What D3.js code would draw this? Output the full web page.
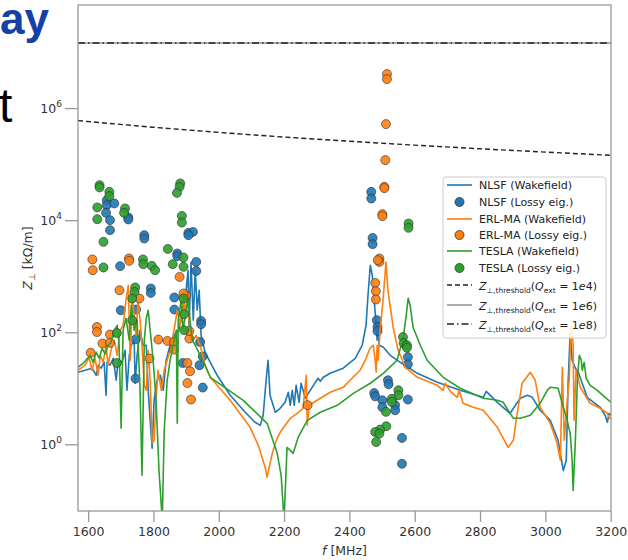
<!DOCTYPE html>
<html lang="en">
<head>
<meta charset="UTF-8">
<title>Transverse impedance</title>
<style>
  body { margin: 0; background: #fff; }
  svg { display: block; font-family: "DejaVu Sans", sans-serif; }
</style>
</head>
<body>
<div class="canvas"></div>
<script src="https://cdnjs.cloudflare.com/ajax/libs/d3/7.8.5/d3.min.js"></script>
<script>
// data: [f MHz, Z kOhm/m]
const nlsfWake = [[1569,19.3],[1591,21],[1612,22.8],[1625,17.1],[1631,25.8],[1640,22.8],[1649,29.1],[1655,7.5],[1658,29.1],[1667,25.8],[1677,34.3],[1686,13.9],[1692,31.6],[1704,29.1],[1713,47.7],[1719,9.2],[1726,38.8],[1732,58.6],[1741,72],[1744,12.3],[1750,38.8],[1759,108],[1768,58.6],[1778,58.6],[1784,9.2],[1790,2.68],[1796,0.85],[1802,6.1],[1811,13.9],[1821,17.1],[1830,9.2],[1839,31.6],[1851,58.6],[1863,88],[1876,108],[1885,164],[1894,373],[1900,562],[1906,1280],[1909,108],[1915,1780],[1922,164],[1928,1280],[1934,247],[1940,562],[1946,88],[1958,44],[1974,29.1],[1995,17.1],[2035,7.5],[2081,3.73],[2111,2.47],[2127,2.18],[2136,3.3],[2145,13.9],[2151,31.6],[2157,7.5],[2173,3.73],[2188,4.39],[2203,5.62],[2213,8.5],[2219,4.97],[2225,9.2],[2231,4.97],[2237,11.3],[2246,5.62],[2252,12.3],[2265,6.63],[2280,9.2],[2304,15.1],[2311,13.3],[2320,15.7],[2341,18.5],[2381,22.8],[2418,34.3],[2439,58.6],[2451,133],[2457,458],[2464,1570],[2470,1040],[2476,373],[2482,133],[2485,72],[2488,151],[2491,58.6],[2504,54],[2525,38.8],[2556,29.1],[2608,18.5],[2669,12.8],[2739,9.2],[2810,6.9],[2819,8.8],[2853,5.62],[2892,3.58],[2923,6.63],[2945,7.5],[2960,6.9],[2984,4.05],[3015,2.68],[3039,1.18],[3055,0.34],[3064,0.52],[3070,13.9],[3076,96],[3082,31.6],[3092,22.8],[3101,19.3],[3128,6.9],[3168,4.58],[3183,3.3],[3190,2.47],[3195,3.58],[3202,3.3]];

const erlWake = [[1569,21],[1591,25.8],[1603,35.8],[1612,21],[1621,34.3],[1631,17.1],[1637,38.8],[1646,29.1],[1655,58.6],[1661,25.8],[1670,47.7],[1680,72],[1689,38.8],[1698,108],[1707,133],[1716,373],[1723,690],[1729,31.6],[1735,458],[1741,201],[1747,88],[1753,373],[1759,164],[1765,58.6],[1772,11.3],[1778,9.2],[1784,47.7],[1790,13.9],[1796,1.04],[1802,1.18],[1808,6.1],[1814,21],[1824,9.2],[1833,21],[1842,31.6],[1851,47.7],[1863,108],[1873,247],[1882,133],[1891,373],[1897,247],[1903,405],[1912,108],[1922,72],[1931,88],[1943,58.6],[1958,25.8],[1974,15.7],[2035,6.1],[2096,2.01],[2121,0.96],[2142,0.39],[2148,0.26],[2157,0.46],[2164,0.69],[2176,1.18],[2188,1.64],[2219,2.91],[2240,3.58],[2258,4.39],[2268,17.1],[2271,2.18],[2277,4.97],[2311,6.63],[2341,8.5],[2381,10.4],[2402,13.9],[2433,21],[2451,34.3],[2463,51.8],[2473,58.6],[2479,31.6],[2482,19.3],[2485,58.6],[2488,31.6],[2494,108],[2503,373],[2512,1780],[2518,562],[2534,123],[2549,47.7],[2571,23.7],[2608,15.7],[2669,11.3],[2687,9.2],[2693,12.3],[2709,8.8],[2730,6.9],[2736,9.2],[2748,5.4],[2779,4.58],[2810,4.05],[2853,2.01],[2886,0.88],[2902,1.18],[2914,3.58],[2929,12.3],[2954,19.3],[2969,13.9],[2984,4.58],[3015,2.37],[3036,1.04],[3046,0.52],[3052,23.7],[3058,1.18],[3067,6.1],[3073,13.9],[3079,133],[3085,58.6],[3088,2.68],[3094,21],[3107,10.4],[3137,5.4],[3168,4.39],[3190,3.58],[3196,2.91],[3205,3.03]];

const teslaWake = [[1569,23.7],[1588,29.1],[1606,38.8],[1615,29.1],[1625,44],[1634,34.3],[1643,51.8],[1652,40.5],[1661,58.6],[1670,66],[1680,108],[1689,133],[1695,58.6],[1701,1.93],[1707,108],[1716,178],[1726,72],[1732,303],[1741,108],[1750,164],[1759,9.2],[1765,0.28],[1772,72],[1778,178],[1784,247],[1790,108],[1799,31.6],[1808,6.1],[1817,0.34],[1827,0.044],[1833,1.78],[1842,13.9],[1851,31.6],[1860,58.6],[1870,108],[1873,2.37],[1876,164],[1885,373],[1891,108],[1900,247],[1906,373],[1912,164],[1919,72],[1928,58.6],[1943,38.8],[1958,25.8],[1974,15.7],[2075,6.1],[2148,2.37],[2179,0.69],[2191,0.28],[2200,0.044],[2209,0.88],[2219,0.78],[2228,0.69],[2243,1.33],[2271,2.68],[2311,3.73],[2363,4.97],[2412,8.1],[2464,12.3],[2504,18.5],[2546,31.6],[2565,81],[2574,201],[2580,405],[2586,303],[2595,123],[2617,58.6],[2638,31.6],[2687,15.7],[2739,10],[2810,6.63],[2853,6.1],[2871,5.62],[2886,4.05],[2902,2.91],[2923,2.91],[2954,3.3],[2984,5.4],[3006,9.2],[3015,10.4],[3039,10],[3055,4.58],[3067,2.68],[3076,1.57],[3082,0.52],[3085,0.15],[3092,1.18],[3098,13.9],[3104,38.8],[3110,31.6],[3113,21],[3119,29.1],[3125,15.1],[3137,11.3],[3159,9.2],[3183,6.9],[3205,5.4]];

const nlsfEig = [[1657,22700],[1657,18500],[1680,19900],[1655,13500],[1667,10000],[1723,11200],[1723,10300],[1667,6630],[1772,5400],[1772,4710],[1698,1510],[1873,2540],[1873,2280],[1907,5930],[1921,6180],[1907,5400],[1931,1800],[1931,1240],[1792,603],[1792,503],[1864,417],[1864,254],[1700,247],[1747,254],[1946,159],[1946,139],[1943,67],[1951,37],[1890,28.3],[1745,14.9],[1951,10.3],[1746,75],[1941,25.8],
  [2467,32000],[2467,24400],[2471,4830],[2471,3730],[2484,164],[2486,124],[2486,105],[2518,13.9],[2520,11.8],[2476,8.2],[2479,7.2],[2501,6.1],[2501,4.6],[2540,5.0],[2540,4.05],[2579,36],[2579,26.8],[2579,6.3],[2561,1.3],[2561,0.45]];

const erlEig = [[1613,1990],[1614,1280],[1725,2070],[1726,1880],[1880,972],[1696,562],[1757,400],[1900,458],[1892,491],[1627,124],[1627,101],[1667,91],[1644,63],[1667,65],[1608,43],[1815,74],[1843,70],[1863,67],[1863,49],[1910,77],[1910,105],[1788,34],[1904,28.3],[1912,20.1],[1904,12.4],[1915,6.3],[2272,5.0],
  [2515,4.05e6],[2515,3.3e6],[2512,5.18e5],[2510,1.18e5],[2507,39300],[2507,37300],[2501,12800],[2501,11800],[2492,2070],[2492,1800],[2487,1930],[2479,760],[2481,540],[2481,384]];

const teslaEig = [[1635,42200],[1635,38400],[1665,32000],[1665,26800],[1628,16900],[1628,10400],[1713,16200],[1710,13500],[1647,4100],[1647,1430],[1768,1990],[1769,1640],[1795,1530],[1805,1280],[1844,3070],[1859,1640],[1892,2160],[1892,1470],[1882,45200],[1880,39300],[1872,30700],[1887,11900],[1887,9100],[1744,628],[1742,525],[1735,400],[1735,164],[1892,400],[1894,210],[1894,109],[1688,97],[1688,28.3],
  [2581,8730],[2581,7300],[2564,82],[2566,64],[2576,58.6],[2576,53],[2550,9.2],[2550,7.5],[2530,6.5],[2530,5.7],[2512,3.8],[2513,2.1],[2494,1.83],[2479,1.66],[2492,1.55],[2482,1.1]];

const thrQ4 = [[1569,5.98e5],[1800,4.54e5],[2000,3.68e5],[2200,3.04e5],[2400,2.56e5],[2600,2.18e5],[2800,1.88e5],[3000,1.64e5],[3200,1.44e5]];
const thrQ6 = [[1569,1.45e7],[3200,1.45e7]];
const thrQ8 = [[1569,1.45e7],[3200,1.45e7]];

const xTicks = [1600, 1800, 2000, 2200, 2400, 2600, 2800, 3000, 3200];
const yTickExp = [0, 2, 4, 6];

const legendItems = [
  {label: 'NLSF (Wakefield)', color: '#1f77b4', type: 'line'},
  {label: 'NLSF (Lossy eig.)', color: '#1f77b4', type: 'dot'},
  {label: 'ERL-MA (Wakefield)', color: '#ff7f0e', type: 'line'},
  {label: 'ERL-MA (Lossy eig.)', color: '#ff7f0e', type: 'dot'},
  {label: 'TESLA (Wakefield)', color: '#2ca02c', type: 'line'},
  {label: 'TESLA (Lossy eig.)', color: '#2ca02c', type: 'dot'},
  {q: '1e4', color: '#222', type: 'thr', dash: '5,3'},
  {q: '1e6', color: '#999', type: 'thr', dash: null},
  {q: '1e8', color: '#222', type: 'thr', dash: '7,3,1.5,3'}
];

const width = 628, height = 560;
const margin = {top: 5, right: 17, bottom: 49, left: 78};
const graphWidth = width - margin.left - margin.right;
const graphHeight = height - margin.top - margin.bottom;

const svg = d3.select('.canvas')
  .append('svg')
    .attr('width', width)
    .attr('height', height);

// stray slide text at the top left
svg.append('text')
  .attr('x', 0).attr('y', 34)
  .attr('font-family', 'Liberation Sans, Arial, sans-serif')
  .attr('font-weight', 'bold')
  .attr('font-size', 44)
  .attr('fill', '#1540a8')
  .text('ay');
svg.append('text')
  .attr('x', -1).attr('y', 122)
  .attr('font-family', 'Liberation Sans, Arial, sans-serif')
  .attr('font-size', 48)
  .attr('fill', '#000')
  .text('t');

const x = d3.scaleLinear().domain([1569, 3201]).range([0, graphWidth]);
const y = d3.scaleLog().domain([Math.pow(10, -1.19), Math.pow(10, 7.84)]).range([graphHeight, 0]);

const graph = svg.append('g')
  .attr('transform', `translate(${margin.left}, ${margin.top})`);

svg.append('defs').append('clipPath').attr('id', 'plotclip')
  .append('rect').attr('width', graphWidth).attr('height', graphHeight);

// axes
const xAxisGroup = graph.append('g').attr('transform', `translate(0, ${graphHeight})`);
const yAxisGroup = graph.append('g');

xAxisGroup.call(d3.axisBottom(x).tickValues(xTicks).tickSize(11).tickPadding(5).tickFormat(d => d));
yAxisGroup.call(d3.axisLeft(y).tickValues(yTickExp.map(e => Math.pow(10, e))).tickSize(13).tickPadding(3).tickFormat(''));

[xAxisGroup, yAxisGroup].forEach(g => {
  g.select('.domain').remove();
  g.selectAll('line').attr('stroke', '#999').attr('stroke-width', 1.3);
  g.selectAll('text').attr('fill', '#333').attr('font-size', 12.5).attr('font-family', 'DejaVu Sans, sans-serif');
});

// y tick labels as 10^n
yAxisGroup.selectAll('.tick text').each(function(d) {
  const t = d3.select(this);
  t.text('10');
  t.append('tspan').attr('dy', -6).attr('font-size', 9).text(Math.round(Math.log10(d)));
});

const plot = graph.append('g').attr('clip-path', 'url(#plotclip)');

const line = d3.line().x(d => x(d[0])).y(d => y(d[1]));

const series = [
  {wake: nlsfWake, eig: nlsfEig, color: '#1f77b4'},
  {wake: erlWake, eig: erlEig, color: '#ff7f0e'},
  {wake: teslaWake, eig: teslaEig, color: '#2ca02c'}
];

series.forEach(s => {
  plot.append('path')
    .datum(s.wake)
    .attr('fill', 'none')
    .attr('stroke', s.color)
    .attr('stroke-width', 1.6)
    .attr('stroke-linejoin', 'round')
    .attr('d', line);

  plot.selectAll(null)
    .data(s.eig)
    .enter()
    .append('circle')
      .attr('cx', d => x(d[0]))
      .attr('cy', d => y(d[1]))
      .attr('r', 4.5)
      .attr('fill', s.color)
      .attr('fill-opacity', 0.9)
      .attr('stroke', '#333')
      .attr('stroke-opacity', 0.8)
      .attr('stroke-width', 0.8);
});

// thresholds
plot.append('path').datum(thrQ4).attr('fill', 'none').attr('stroke', '#222')
  .attr('stroke-width', 1.4).attr('stroke-dasharray', '5,3').attr('d', line);
plot.append('path').datum(thrQ6).attr('fill', 'none').attr('stroke', '#999')
  .attr('stroke-width', 1.4).attr('d', line);
plot.append('path').datum(thrQ8).attr('fill', 'none').attr('stroke', '#222')
  .attr('stroke-width', 1.4).attr('stroke-dasharray', '7,3,1.5,3').attr('d', line);

// frame
graph.append('rect')
  .attr('width', graphWidth).attr('height', graphHeight)
  .attr('fill', 'none').attr('stroke', '#999').attr('stroke-width', 1.3);

// axis labels
const xl = svg.append('text')
  .attr('x', margin.left + graphWidth / 2).attr('y', 555)
  .attr('text-anchor', 'middle').attr('font-size', 12.5).attr('fill', '#333');
xl.append('tspan').attr('font-style', 'italic').text('f');
xl.append('tspan').text(' [MHz]');

const yl = svg.append('text')
  .attr('transform', `translate(32, ${margin.top + graphHeight / 2}) rotate(-90)`)
  .attr('text-anchor', 'middle').attr('font-size', 12.5).attr('fill', '#333');
yl.append('tspan').attr('font-style', 'italic').text('Z');
yl.append('tspan').attr('font-size', 9).attr('dy', 3).attr('fill', '#333').text('⊥');
yl.append('tspan').attr('dy', -3).text(' [kΩ/m]');

// legend
const legend = svg.append('g').attr('transform', 'translate(443, 177)');
legend.append('rect')
  .attr('width', 163).attr('height', 161).attr('rx', 3)
  .attr('fill', '#fff').attr('fill-opacity', 0.85)
  .attr('stroke', '#ccc').attr('stroke-width', 1);

const rowY = [8, 25, 42, 58, 74, 91, 108, 128, 147];

legendItems.forEach((item, i) => {
  const g = legend.append('g').attr('transform', `translate(0, ${rowY[i]})`);
  if (item.type === 'dot') {
    g.append('circle').attr('cx', 16.5).attr('cy', 0).attr('r', 4.5)
      .attr('fill', item.color).attr('stroke', '#333').attr('stroke-width', 0.8);
  } else {
    g.append('line').attr('x1', 4).attr('x2', 29).attr('y1', 0).attr('y2', 0)
      .attr('stroke', item.color).attr('stroke-width', 1.6)
      .attr('stroke-dasharray', item.dash);
  }
  const t = g.append('text').attr('x', 36).attr('y', 4)
    .attr('font-size', 11).attr('fill', '#222');
  if (item.type === 'thr') {
    t.attr('y', 5);
    t.append('tspan').attr('font-style', 'italic').text('Z');
    t.append('tspan').attr('font-size', 7.5).attr('dy', 3).text('⊥,threshold');
    t.append('tspan').attr('dy', -3).text('(');
    t.append('tspan').attr('font-style', 'italic').text('Q');
    t.append('tspan').attr('font-size', 7.5).attr('dy', 3).text('ext');
    t.append('tspan').attr('dy', -3).text(' = 1');
    t.append('tspan').attr('font-style', 'italic').text('e');
    t.append('tspan').text(item.q.slice(2) + ')');
  } else {
    t.text(item.label);
  }
});
</script>
</body>
</html>
